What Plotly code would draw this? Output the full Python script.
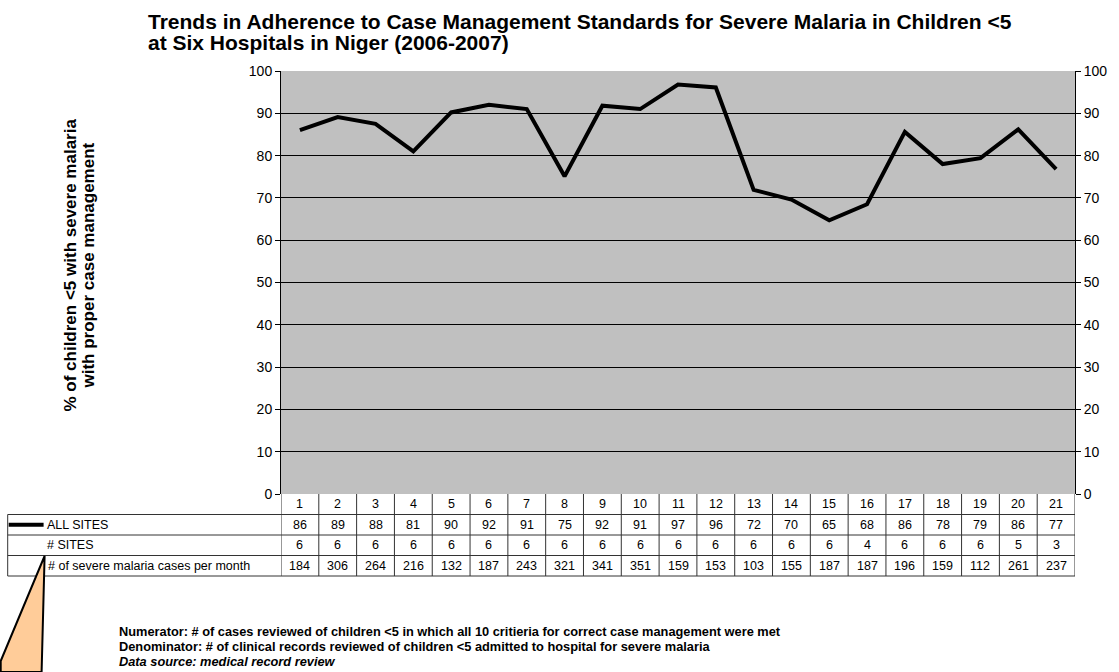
import plotly.graph_objects as go

months = list(range(1, 22))
all_sites = [86.0, 89.1, 87.5, 81.0, 90.2, 92.0, 91.0, 75.1, 91.8, 91.0, 96.8,
             96.1, 71.9, 69.6, 64.7, 68.5, 85.6, 78.0, 79.4, 86.2, 76.8]
all_sites_label = [86, 89, 88, 81, 90, 92, 91, 75, 92, 91, 97, 96, 72, 70, 65, 68, 86, 78, 79, 86, 77]
n_sites = [6, 6, 6, 6, 6, 6, 6, 6, 6, 6, 6, 6, 6, 6, 6, 4, 6, 6, 6, 5, 3]
n_cases = [184, 306, 264, 216, 132, 187, 243, 321, 341, 351, 159, 153, 103, 155, 187, 187, 196, 159, 112, 261, 237]
row_labels = ["ALL SITES", "# SITES", "# of severe malaria cases per month"]
title_lines = ["Trends in Adherence to Case Management Standards for Severe Malaria in Children &lt;5",
               "at Six Hospitals in Niger (2006-2007)"]
ytitle_lines = ["% of children &lt;5 with severe malaria", "with proper case management"]
notes = ["Numerator: # of cases reviewed of children &lt;5 in which all 10 critieria for correct case management were met",
         "Denominator: # of clinical records reviewed of children &lt;5 admitted to hospital for severe malaria",
         "<i>Data source: medical record review</i>"]
y_ticks = list(range(0, 101, 10))

W, H = 1119, 672
L, R, T, B = 281, 42, 71, 178
PW, PH = W - L - R, H - T - B


def px_x(px):
    return (px - L) / PW


def px_y(py):
    return (H - B - py) / PH


fig = go.Figure()
fig.add_trace(go.Scatter(x=months, y=all_sites, mode="lines",
                         line=dict(color="black", width=4), showlegend=False,
                         hoverinfo="x+y"))
# invisible trace for the right axis
fig.add_trace(go.Scatter(x=months, y=all_sites, yaxis="y2", mode="lines",
                         line=dict(color="rgba(0,0,0,0)"), showlegend=False,
                         hoverinfo="skip"))

font = "Arial, Liberation Sans, sans-serif"
axis_common = dict(range=[0, 100], tickvals=y_ticks, ticks="outside", ticklen=5,
                   tickcolor="black", tickfont=dict(family=font, size=14, color="black"),
                   showline=True, linecolor="black", linewidth=1, zeroline=False)

fig.update_layout(
    width=W, height=H,
    margin=dict(l=L, r=R, t=T, b=B),
    paper_bgcolor="white", plot_bgcolor="#C0C0C0",
    xaxis=dict(range=[0.5, 21.5], showticklabels=False, showgrid=False, zeroline=False,
               showline=False, ticks=""),
    yaxis=dict(**axis_common, showgrid=True, gridcolor="black", gridwidth=1),
    yaxis2=dict(**axis_common, overlaying="y", side="right", showgrid=False),
)

shapes = []
annotations = []

# title (two lines placed separately for tight line spacing)
for i, t in enumerate(title_lines):
    annotations.append(dict(x=px_x(146), y=px_y(21 + 22 * i), xref="paper", yref="paper",
                            text=t, showarrow=False, xanchor="left", yanchor="middle", align="left",
                            font=dict(family=font, size=21, color="black", weight="bold")))

# row boundaries (pixel y)
rows_py = [494, 514.5, 535, 555.5, 576]
table_left = 7
line_col = "#333333"

# horizontal lines
for py in rows_py[1:]:
    shapes.append(dict(type="line", xref="paper", yref="paper", x0=px_x(table_left), x1=1,
                       y0=px_y(py), y1=px_y(py), line=dict(color=line_col, width=1)))
# vertical lines for month columns
for i in range(0, 22):
    xv = 0.5 + i
    shapes.append(dict(type="line", xref="x", yref="paper", x0=xv, x1=xv,
                       y0=px_y(rows_py[0]), y1=px_y(rows_py[-1]), line=dict(color=line_col, width=1)))
# left edge of label column
shapes.append(dict(type="line", xref="paper", yref="paper", x0=px_x(table_left), x1=px_x(table_left),
                   y0=px_y(rows_py[1]), y1=px_y(rows_py[-1]), line=dict(color=line_col, width=1)))

# legend key line
ykey = px_y((rows_py[1] + rows_py[2]) / 2)
shapes.append(dict(type="line", xref="paper", yref="paper", x0=px_x(8), x1=px_x(43),
                   y0=ykey, y1=ykey, line=dict(color="black", width=4)))

cell_font = dict(family=font, size=12.5, color="black")
row_values = [months, all_sites_label, n_sites, n_cases]
for r, vals in enumerate(row_values):
    yc = px_y((rows_py[r] + rows_py[r + 1]) / 2)
    for m, v in zip(months, vals):
        annotations.append(dict(x=m, y=yc, xref="x", yref="paper", text=str(v),
                                showarrow=False, font=cell_font, xanchor="center", yanchor="middle"))
label_x = [44, 44, 45]
for r, lab in enumerate(row_labels):
    yc = px_y((rows_py[r + 1] + rows_py[r + 2]) / 2)
    annotations.append(dict(x=px_x(label_x[r]), y=yc, xref="paper", yref="paper", text=lab,
                            showarrow=False, font=cell_font, xanchor="left", yanchor="middle"))

# y axis title (two rotated lines)
for i, t in enumerate(ytitle_lines):
    annotations.append(dict(x=px_x(69 + 19 * i), y=px_y(265), xref="paper", yref="paper",
                            text=t, textangle=-90, showarrow=False,
                            font=dict(family=font, size=17, color="black", weight="bold"),
                            xanchor="center", yanchor="middle"))

# footnotes
for i, n in enumerate(notes):
    annotations.append(dict(x=px_x(117), y=px_y(631 + 15 * i), xref="paper", yref="paper",
                            text=n, showarrow=False,
                            font=dict(family=font, size=12.8, color="black", weight="bold"),
                            xanchor="left", yanchor="middle"))

# callout triangle
pts = [(44, 556), (0, 661), (0, 672), (41, 672)]
path = "M " + " L ".join(f"{px_x(a)},{px_y(b)}" for a, b in pts) + " Z"
shapes.append(dict(type="path", xref="paper", yref="paper", path=path,
                   fillcolor="#FFCC99", line=dict(color="black", width=2)))

fig.update_layout(shapes=shapes, annotations=annotations)
fig.write_html("out.html")
